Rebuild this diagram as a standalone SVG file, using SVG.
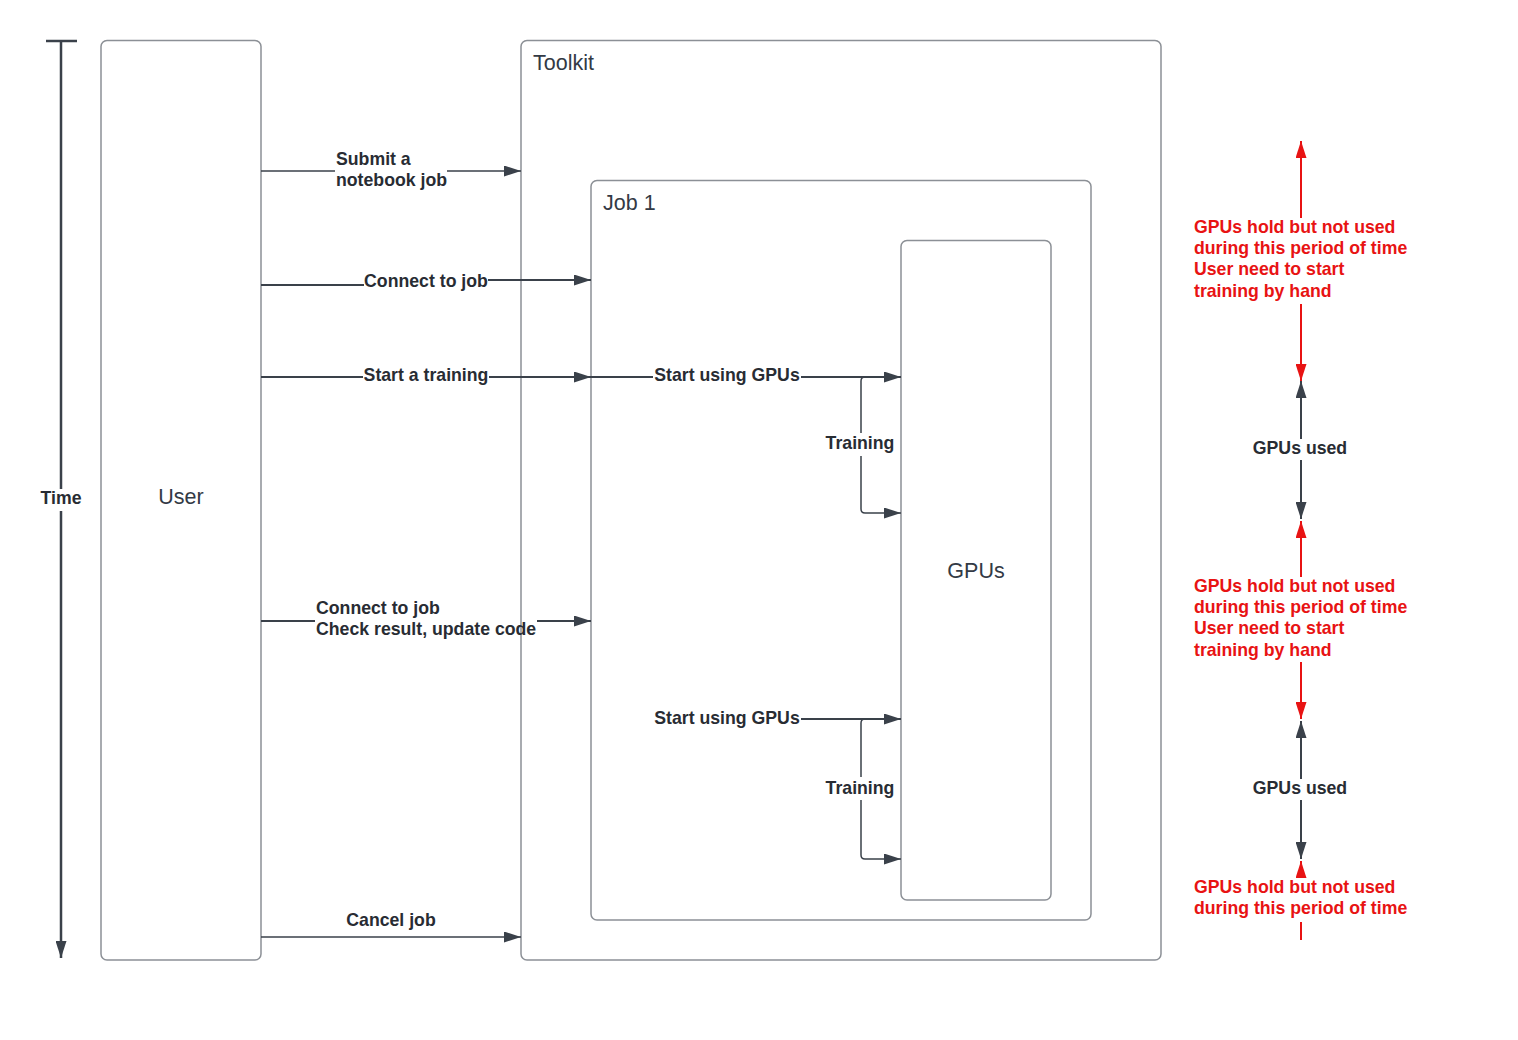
<svg xmlns="http://www.w3.org/2000/svg" width="1518" height="1040" viewBox="0 0 1518 1040">
<defs>
<style>
.box{fill:#ffffff;stroke:#8c9096;stroke-width:1.5}
.ttl{font-family:"Liberation Sans",Arial,sans-serif;font-size:21.5px;fill:#333a45}
.lbl{font-family:"Liberation Sans",Arial,sans-serif;font-size:17.7px;font-weight:bold;fill:#282c33}
.red{font-family:"Liberation Sans",Arial,sans-serif;font-size:17.7px;font-weight:bold;fill:#e81313}
.c{fill:none;stroke:#3a414a;stroke-width:2}
.ct{fill:none;stroke:#3a414a;stroke-width:1.5}
.r{fill:none;stroke:#e81313;stroke-width:2}
</style>
<marker id="ad" markerUnits="userSpaceOnUse" markerWidth="17" markerHeight="11" refX="17" refY="5.5" orient="auto" viewBox="0 0 17 11"><path d="M0,0 L17,5.5 L0,11 z" fill="#3a414a"/></marker>
<marker id="ar" markerUnits="userSpaceOnUse" markerWidth="17" markerHeight="11" refX="17" refY="5.5" orient="auto" viewBox="0 0 17 11"><path d="M0,0 L17,5.5 L0,11 z" fill="#e81313"/></marker>
</defs>
<rect width="1518" height="1040" fill="#ffffff"/>

<g id="user">
<rect class="box" x="101" y="40.5" width="160" height="919.5" rx="6"/>
<text class="ttl" x="181" y="504" text-anchor="middle">User</text>
</g>
<g id="toolkit">
<rect class="box" x="521" y="40.5" width="640" height="919.5" rx="6"/>
<text class="ttl" x="533" y="70">Toolkit</text>
</g>
<g id="job1">
<rect class="box" x="591" y="180.5" width="500" height="739.5" rx="6"/>
<text class="ttl" x="603" y="210">Job 1</text>
</g>
<g id="gpus">
<rect class="box" x="901" y="240.5" width="150" height="659.5" rx="6"/>
<text class="ttl" x="976" y="578" text-anchor="middle">GPUs</text>
</g>

<g id="time-axis">
<path d="M46,41 H77" stroke="#3a414a" stroke-width="2.5" fill="none"/>
<path d="M61,41 V489" stroke="#3a414a" stroke-width="2.5" fill="none"/>
<path d="M61,511 V958" stroke="#3a414a" stroke-width="2.5" fill="none" marker-end="url(#ad)"/>
<text class="lbl" x="61" y="504" text-anchor="middle">Time</text>
</g>

<g id="connectors">
<path class="ct" d="M261,171 H335"/>
<path class="ct" d="M447,171 H521" marker-end="url(#ad)"/>
<path class="c" d="M261,285 H364"/>
<path class="c" d="M488,280 H591" marker-end="url(#ad)"/>
<path class="c" d="M261,377 H363"/>
<path class="c" d="M489,377 H591" marker-end="url(#ad)"/>
<path class="c" d="M591,377 H653"/>
<path class="c" d="M801,377 H901" marker-end="url(#ad)"/>
<path class="ct" d="M880,377 H865 Q861,377 861,381 V433"/>
<path class="ct" d="M861,456 V509 Q861,513 865,513 H901" marker-end="url(#ad)"/>
<path class="c" d="M261,621 H315"/>
<path class="c" d="M537,621 H591" marker-end="url(#ad)"/>
<path class="c" d="M801,719 H901" marker-end="url(#ad)"/>
<path class="ct" d="M880,719 H865 Q861,719 861,723 V777"/>
<path class="ct" d="M861,800 V855 Q861,859 865,859 H901" marker-end="url(#ad)"/>
<path class="ct" d="M261,937 H521" marker-end="url(#ad)"/>

<path class="r" d="M1301,218 V141" marker-end="url(#ar)"/>
<path class="r" d="M1301,304 V381" marker-end="url(#ar)"/>
<path class="c" d="M1301,439 V381" marker-end="url(#ad)"/>
<path class="c" d="M1301,460 V519" marker-end="url(#ad)"/>
<path class="r" d="M1301,577 V521" marker-end="url(#ar)"/>
<path class="r" d="M1301,662 V719" marker-end="url(#ar)"/>
<path class="c" d="M1301,779 V721" marker-end="url(#ad)"/>
<path class="c" d="M1301,800 V859" marker-end="url(#ad)"/>
<path class="r" d="M1301,877 V861" marker-end="url(#ar)"/>
<path class="r" d="M1301,922 V940"/>
</g>

<g id="labels">
<text class="lbl" x="336" y="165">Submit a</text>
<text class="lbl" x="336" y="186">notebook job</text>
<text class="lbl" x="426" y="287" text-anchor="middle">Connect to job</text>
<text class="lbl" x="426" y="381" text-anchor="middle">Start a training</text>
<text class="lbl" x="727" y="381" text-anchor="middle">Start using GPUs</text>
<text class="lbl" x="860" y="449" text-anchor="middle">Training</text>
<text class="lbl" x="316" y="614">Connect to job</text>
<text class="lbl" x="316" y="635">Check result, update code</text>
<text class="lbl" x="727" y="724" text-anchor="middle">Start using GPUs</text>
<text class="lbl" x="860" y="794" text-anchor="middle">Training</text>
<text class="lbl" x="391" y="926" text-anchor="middle">Cancel job</text>
<text class="lbl" x="1300" y="454" text-anchor="middle">GPUs used</text>
<text class="lbl" x="1300" y="794" text-anchor="middle">GPUs used</text>
<text class="red" x="1194" y="233">GPUs hold but not used</text>
<text class="red" x="1194" y="254">during this period of time</text>
<text class="red" x="1194" y="275">User need to start</text>
<text class="red" x="1194" y="297">training by hand</text>
<text class="red" x="1194" y="592">GPUs hold but not used</text>
<text class="red" x="1194" y="613">during this period of time</text>
<text class="red" x="1194" y="634">User need to start</text>
<text class="red" x="1194" y="656">training by hand</text>
<text class="red" x="1194" y="893">GPUs hold but not used</text>
<text class="red" x="1194" y="914">during this period of time</text>
</g>
</svg>
